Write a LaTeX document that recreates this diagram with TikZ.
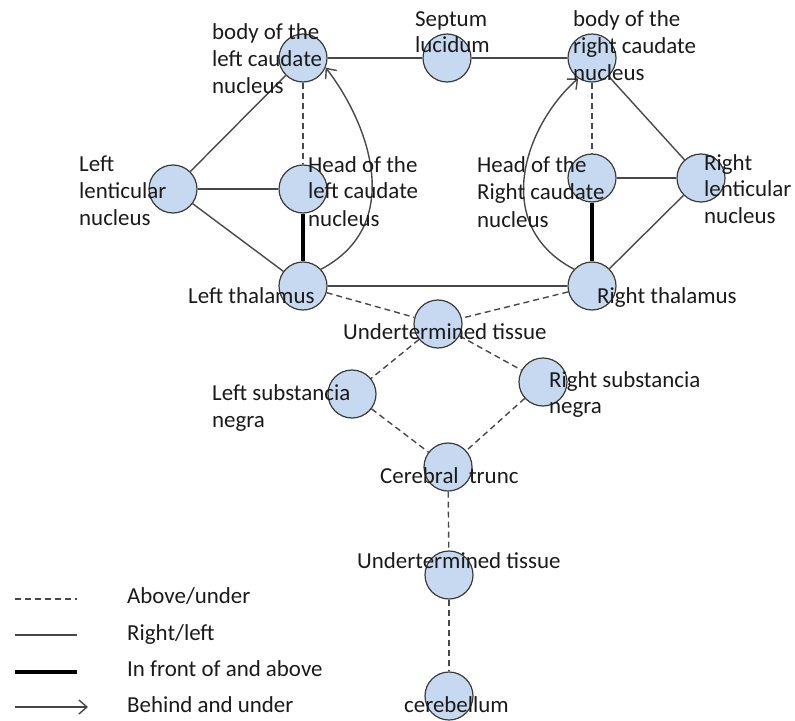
\documentclass[tikz,border=0pt]{standalone}
\usepackage{fontspec}
\setmainfont{Carlito}
\usetikzlibrary{arrows.meta}
\definecolor{regionfill}{HTML}{C6D9F1}
\definecolor{rimcol}{HTML}{3A3A3A}
\definecolor{linkcol}{HTML}{484848}
\definecolor{labelcol}{HTML}{1A1A1A}
\begin{document}
\begin{tikzpicture}[x=1bp,y=-1bp,
  region/.style={circle, draw=rimcol, fill=regionfill, line width=1.2bp,
                 minimum size=48bp, inner sep=0pt},
  lbl/.style={anchor=base west, inner sep=0pt, text=labelcol,
              font=\fontsize{23}{27}\selectfont},
  rl/.style={draw=linkcol, line width=1.4bp},
  au/.style={draw=linkcol, line width=1.4bp, dash pattern=on 6bp off 4bp},
  fa/.style={draw=black, line width=4.5bp},
  bu/.style={draw=linkcol, line width=1.4bp, -{Straight Barb[length=8bp,width=14bp]}},
]
\useasboundingbox (0,0) rectangle (795,721);

% brain regions
\node[region] (BodyL) at (303,58) {};
\node[region] (Sept)  at (447,58) {};
\node[region] (BodyR) at (592,58) {};
\node[region] (LenL)  at (173,189) {};
\node[region] (HeadL) at (303,189) {};
\node[region] (HeadR) at (592,178) {};
\node[region] (LenR)  at (701,178) {};
\node[region] (ThalL) at (303,286) {};
\node[region] (ThalR) at (592,286) {};
\node[region] (Und1)  at (438,324) {};
\node[region] (SubL)  at (352,394) {};
\node[region] (SubR)  at (543,382) {};
\node[region] (Trunc) at (448,467) {};
\node[region] (Und2)  at (449,575) {};
\node[region] (Cereb) at (449,696) {};

% right/left relations
\draw[rl] (BodyL) -- (Sept);
\draw[rl] (Sept) -- (BodyR);
\draw[rl] (BodyL) -- (LenL);
\draw[rl] (LenL) -- (HeadL);
\draw[rl] (LenL) -- (ThalL);
\draw[rl] (ThalL) -- (ThalR);
\draw[rl] (BodyR) -- (LenR);
\draw[rl] (HeadR) -- (LenR);
\draw[rl] (ThalR) -- (LenR);

% above/under relations
\draw[au] (BodyL) -- (HeadL);
\draw[au] (BodyR) -- (HeadR);
\draw[au] (ThalL) -- (Und1);
\draw[au] (ThalR) -- (Und1);
\draw[au] (Und1) -- (SubL);
\draw[au] (Und1) -- (SubR);
\draw[au] (SubL) -- (Trunc);
\draw[au] (SubR) -- (Trunc);
\draw[au] (Trunc) -- (Und2);
\draw[au] (Und2) -- (Cereb);

% in front of and above
\draw[fa] (HeadL) -- (ThalL);
\draw[fa] (HeadR) -- (ThalR);

% behind and under
\draw[bu] (ThalL.43) .. controls (405,225) and (370,125) .. (BodyL.-23);
\draw[bu] (ThalR.137) .. controls (490,225) and (525,125) .. (BodyR.-124);

% labels
\node[lbl] (tBodyL1) at (212,40) {body of the};
\node[lbl] (tBodyL2) at (212,67) {left caudate};
\node[lbl] (tBodyL3) at (212,94) {nucleus};
\node[lbl] (tSept1) at (415,27) {Septum};
\node[lbl] (tSept2) at (415,53) {lucidum};
\node[lbl] (tBodyR1) at (573,27) {body of the};
\node[lbl] (tBodyR2) at (573,54) {right caudate};
\node[lbl] (tBodyR3) at (573,81) {nucleus};
\node[lbl] (tLenL1) at (79,171) {Left};
\node[lbl] (tLenL2) at (79,198) {lenticular};
\node[lbl] (tLenL3) at (79,225) {nucleus};
\node[lbl] (tHeadL1) at (308,172) {Head of the};
\node[lbl] (tHeadL2) at (308,198) {left caudate};
\node[lbl] (tHeadL3) at (308,226) {nucleus};
\node[lbl] (tHeadR1) at (477,172) {Head of the};
\node[lbl] (tHeadR2) at (477,199) {Right caudate};
\node[lbl] (tHeadR3) at (477,227) {nucleus};
\node[lbl] (tLenR1) at (704,170) {Right};
\node[lbl] (tLenR2) at (704,196) {lenticular};
\node[lbl] (tLenR3) at (704,223) {nucleus};
\node[lbl] (tThalL) at (188,303) {Left thalamus};
\node[lbl] (tThalR) at (597,303) {Right thalamus};
\node[lbl] (tUnd1) at (343,339) {Undertermined tissue};
\node[lbl] (tSubL1) at (212,400) {Left substancia};
\node[lbl] (tSubL2) at (212,427) {negra};
\node[lbl] (tSubR1) at (549,387) {Right substancia};
\node[lbl] (tSubR2) at (549,413) {negra};
\node[lbl] (tTrunc) at (380,483) {Cerebral\ \ trunc};
\node[lbl] (tUnd2) at (357,568) {Undertermined tissue};
\node[lbl] (tCereb) at (404,712) {cerebellum};

% legend
\coordinate (k1a) at (15,599); \coordinate (k1b) at (77,599);
\coordinate (k2a) at (15,635); \coordinate (k2b) at (77,635);
\coordinate (k3a) at (15,672); \coordinate (k3b) at (77,672);
\coordinate (k4a) at (15,707); \coordinate (k4b) at (88,707);
\draw[au] (k1a) -- (k1b);
\draw[rl] (k2a) -- (k2b);
\draw[fa] (k3a) -- (k3b);
\draw[bu] (k4a) -- (k4b);
\node[lbl] (kt1) at (127,603) {Above/under};
\node[lbl] (kt2) at (127,640) {Right/left};
\node[lbl] (kt3) at (127,676) {In front of and above};
\node[lbl] (kt4) at (127,712) {Behind and under};
\end{tikzpicture}
\end{document}
